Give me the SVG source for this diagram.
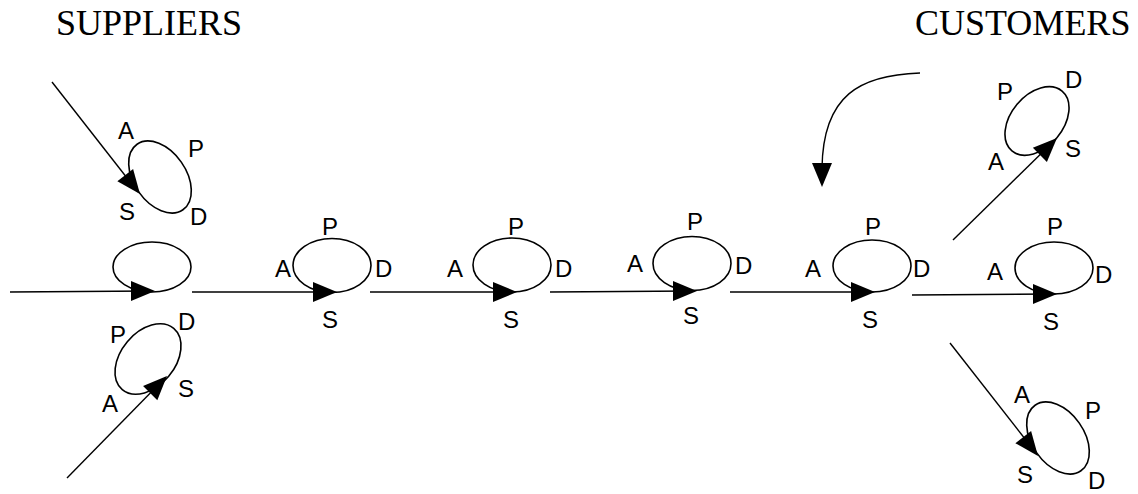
<svg xmlns="http://www.w3.org/2000/svg" width="1138" height="494" viewBox="0 0 1138 494">
<style>
.loop{fill:none;stroke:#000;stroke-width:1.6}
.ln{fill:none;stroke:#000;stroke-width:1.4}
.lb{font-family:"Liberation Sans",Arial,sans-serif;font-size:24px;fill:#000}
.ti{font-family:"Liberation Serif","Times New Roman",serif;font-size:36px;fill:#000}
</style>
<defs>
<path id="ah" d="M0,0 L-24,-10 L-24,10 Z" fill="#000"/>
</defs>
<rect width="1138" height="494" fill="#fff"/>
<text class="ti" x="56" y="35">SUPPLIERS</text>
<text class="ti" x="915" y="35">CUSTOMERS</text>

<g id="connectors">
<line class="ln" x1="52" y1="82" x2="138" y2="192"/>
<use href="#ah" transform="translate(140,194) rotate(52)"/>
<line class="ln" x1="10" y1="292" x2="150" y2="291"/>
<use href="#ah" transform="translate(155,291)"/>
<line class="ln" x1="67" y1="478" x2="165" y2="378"/>
<use href="#ah" transform="translate(167,376) rotate(-45.5)"/>
<line class="ln" x1="192" y1="292" x2="332" y2="292"/>
<use href="#ah" transform="translate(337,292)"/>
<line class="ln" x1="370" y1="292" x2="512" y2="292"/>
<use href="#ah" transform="translate(517,292)"/>
<line class="ln" x1="550" y1="292" x2="692" y2="291"/>
<use href="#ah" transform="translate(697,291)"/>
<line class="ln" x1="730" y1="292" x2="870" y2="292"/>
<use href="#ah" transform="translate(875,292)"/>
<line class="ln" x1="912" y1="295" x2="1052" y2="294"/>
<use href="#ah" transform="translate(1057,294)"/>
<line class="ln" x1="953" y1="240" x2="1055" y2="140"/>
<use href="#ah" transform="translate(1057,138) rotate(-44.5)"/>
<line class="ln" x1="950" y1="343" x2="1036" y2="453"/>
<use href="#ah" transform="translate(1038,456) rotate(52)"/>
<path class="ln" d="M920,73 C860,75 823,95 822,168"/>
<use href="#ah" transform="translate(822,187) rotate(90)"/>
</g>

<g id="supplier-top">
<ellipse class="loop" cx="160" cy="177" rx="40" ry="26" transform="rotate(55 160 177)"/>
<text class="lb" x="118" y="139">A</text>
<text class="lb" x="188" y="157">P</text>
<text class="lb" x="119" y="220">S</text>
<text class="lb" x="190" y="225">D</text>
</g>
<g id="supplier-mid">
<ellipse class="loop" cx="152" cy="267" rx="39" ry="25"/>
</g>
<g id="supplier-bottom">
<ellipse class="loop" cx="148" cy="359" rx="40" ry="27" transform="rotate(-50 148 359)"/>
<text class="lb" x="110" y="343">P</text>
<text class="lb" x="178" y="330">D</text>
<text class="lb" x="178" y="397">S</text>
<text class="lb" x="102" y="412">A</text>
</g>
<g id="node2">
<ellipse class="loop" cx="332" cy="265.5" rx="39" ry="27"/>
<text class="lb" x="275" y="277">A</text>
<text class="lb" x="322" y="235">P</text>
<text class="lb" x="375" y="277">D</text>
<text class="lb" x="322" y="328">S</text>
</g>
<g id="node3">
<ellipse class="loop" cx="512" cy="265" rx="39" ry="27"/>
<text class="lb" x="447" y="277">A</text>
<text class="lb" x="508" y="235">P</text>
<text class="lb" x="555" y="277">D</text>
<text class="lb" x="503" y="328">S</text>
</g>
<g id="node4">
<ellipse class="loop" cx="692" cy="263.5" rx="39" ry="27"/>
<text class="lb" x="627" y="272">A</text>
<text class="lb" x="687" y="230">P</text>
<text class="lb" x="735" y="274">D</text>
<text class="lb" x="683" y="324">S</text>
</g>
<g id="node5">
<ellipse class="loop" cx="872" cy="266" rx="39" ry="26"/>
<text class="lb" x="805" y="277">A</text>
<text class="lb" x="865" y="235">P</text>
<text class="lb" x="913" y="277">D</text>
<text class="lb" x="862" y="328">S</text>
</g>
<g id="customer-top">
<ellipse class="loop" cx="1037" cy="121" rx="39" ry="26" transform="rotate(-50 1037 121)"/>
<text class="lb" x="997" y="100">P</text>
<text class="lb" x="1065" y="88">D</text>
<text class="lb" x="1065" y="157">S</text>
<text class="lb" x="988" y="170">A</text>
</g>
<g id="customer-mid">
<ellipse class="loop" cx="1054" cy="268" rx="39" ry="26"/>
<text class="lb" x="987" y="280">A</text>
<text class="lb" x="1047" y="235">P</text>
<text class="lb" x="1095" y="283">D</text>
<text class="lb" x="1043" y="330">S</text>
</g>
<g id="customer-bottom">
<ellipse class="loop" cx="1058" cy="438" rx="40" ry="26" transform="rotate(55 1058 438)"/>
<text class="lb" x="1014" y="403">A</text>
<text class="lb" x="1085" y="419">P</text>
<text class="lb" x="1017" y="483">S</text>
<text class="lb" x="1088" y="489">D</text>
</g>
</svg>
